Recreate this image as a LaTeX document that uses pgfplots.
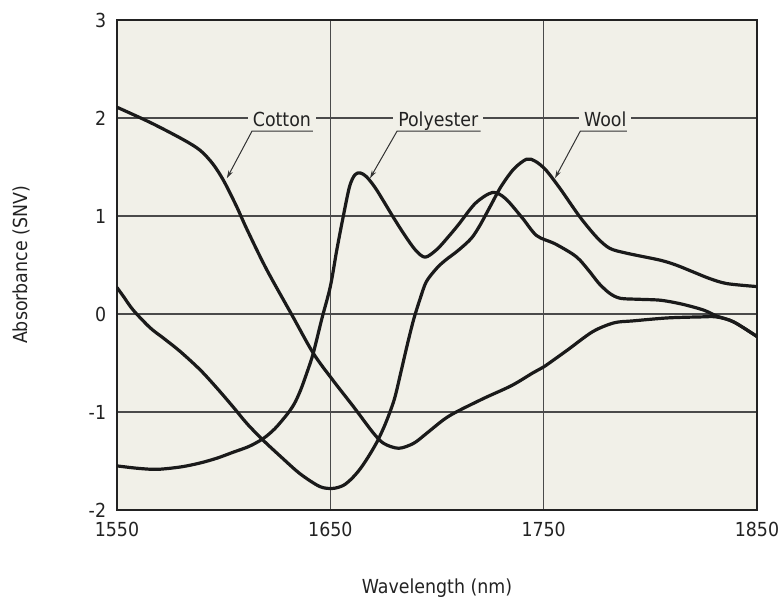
\documentclass[border=0pt]{standalone}
\usepackage{fontspec}
\setmainfont{DejaVu Sans Condensed}
\usepackage{pgfplots}
\pgfplotsset{compat=1.18}
\usetikzlibrary{arrows.meta}
\definecolor{bgc}{HTML}{F1F0E8}
\definecolor{gridc}{HTML}{4A4A4A}
\definecolor{framec}{HTML}{222222}
\definecolor{textc}{HTML}{222222}
\definecolor{curvec}{HTML}{1A1A1A}
\definecolor{leadc}{HTML}{333333}
\tikzset{spec/.style={line width=2.4pt, color=curvec, smooth, tension=0.5, line join=round, line cap=round, mark=none}}
\begin{document}
\begin{tikzpicture}
\path[use as bounding box] (-87.75pt,-73.5pt) rectangle (497.25pt,382.5pt);
\begin{axis}[
  at={(0,0)}, anchor=south west,
  scale only axis, width=480pt, height=367.5pt,
  xmin=1550, xmax=1850, ymin=-2, ymax=3,
  xtick={1550,1650,1750,1850}, ytick={-2,-1,0,1,2,3},
  xticklabels={1550,1650,1750,1850}, yticklabels={-2,-1,0,1,2,3},
  major tick length=0pt,
  grid=major, grid style={line width=0.8pt, color=gridc},
  axis background/.style={fill=bgc},
  axis line style={line width=1.6pt, color=framec},
  tick label style={font=\fontsize{14.5}{16}\selectfont, text=textc},
  xticklabel style={anchor=north, inner sep=0pt, yshift=-9pt},
  yticklabel style={anchor=east, inner sep=0pt, xshift=-8pt},
  label style={font=\fontsize{14.5}{16}\selectfont, text=textc},
  xlabel={Wavelength (nm)}, ylabel={Absorbance (SNV)},
  xlabel style={at={(axis description cs:0.5,-0.1592)}, anchor=center},
  ylabel style={at={(axis description cs:-0.149,0.5)}, anchor=center},
]
% Cotton
\addplot[spec] coordinates {
(1550,2.11) (1566,1.95) (1581,1.78) (1589,1.67) (1595,1.53) (1600,1.36)
(1606,1.10) (1611,0.86) (1620,0.46) (1632,-0.01) (1642,-0.40) (1651,-0.67)
(1661,-0.95) (1670,-1.21) (1675,-1.32) (1682,-1.37) (1689,-1.32) (1695,-1.22)
(1703,-1.08) (1709,-1.00) (1722,-0.86) (1735,-0.73) (1745,-0.60) (1750,-0.54)
(1761,-0.37) (1773,-0.18) (1783,-0.09) (1792,-0.07) (1808,-0.04) (1823,-0.03)
(1831,-0.03) (1839,-0.08) (1850,-0.23)
};
% Polyester
\addplot[spec] coordinates {
(1550,-1.55) (1560,-1.575) (1569,-1.585) (1580,-1.56) (1589,-1.52) (1597,-1.47)
(1604.5,-1.41) (1612,-1.35) (1618.6,-1.27) (1624,-1.17) (1629.5,-1.03) (1633,-0.92)
(1636,-0.78) (1639,-0.60) (1642,-0.40) (1646,-0.05) (1650,0.28) (1653,0.65)
(1656,0.99) (1659,1.30) (1661.5,1.42) (1664,1.44) (1667,1.40) (1671,1.29)
(1675,1.15) (1680,0.97) (1685,0.80) (1690,0.65) (1694.5,0.58) (1700,0.66)
(1705,0.78) (1710,0.91) (1718,1.13) (1726,1.24) (1732,1.18) (1740,0.98)
(1746.7,0.80) (1755,0.72) (1763,0.62) (1767,0.55) (1772,0.42) (1776,0.31)
(1781,0.21) (1786,0.16) (1795,0.15) (1805,0.14) (1815,0.10) (1825,0.04)
(1831,-0.02) (1839,-0.08) (1850,-0.23)
};
% Wool
\addplot[spec] coordinates {
(1550,0.27) (1553,0.18) (1557.6,0.04) (1565.5,-0.14) (1572,-0.25) (1579.5,-0.38)
(1589,-0.57) (1597,-0.76) (1604.5,-0.95) (1611,-1.12) (1618.6,-1.29) (1627,-1.46)
(1635.8,-1.63) (1645,-1.76) (1651,-1.78) (1656,-1.75) (1660,-1.68) (1664,-1.58)
(1668,-1.45) (1672,-1.30) (1676,-1.11) (1680,-0.87) (1683,-0.60) (1686,-0.32)
(1689,-0.06) (1692,0.15)
(1695,0.33) (1700,0.47) (1704,0.55) (1710,0.65) (1716,0.77) (1720,0.90)
(1725,1.10) (1730,1.30) (1736,1.48) (1742,1.58) (1746,1.56) (1751,1.47)
(1757.7,1.28) (1767,0.99) (1775,0.78) (1781,0.67) (1789,0.62) (1804.5,0.55)
(1812,0.50) (1820,0.43) (1828,0.36) (1836,0.31) (1850,0.28)
};
% labels
\begin{scope}[every node/.style={font=\fontsize{14.5}{16}\selectfont, text=textc, fill=bgc, inner xsep=3.75pt, inner ysep=1pt, anchor=base}]
\node at (axis cs:1627.3,1.911) {Cotton};
\node at (axis cs:1700.6,1.911) {Polyester};
\node at (axis cs:1778.9,1.911) {Wool};
\end{scope}
\begin{scope}[line width=0.75pt, color=leadc]
\draw[-{Stealth[length=6pt,width=3.5pt]}] (axis cs:1641.8,1.867) -- (axis cs:1613.3,1.867) -- (axis cs:1601.5,1.385);
\draw[-{Stealth[length=6pt,width=3.5pt]}] (axis cs:1720.4,1.867) -- (axis cs:1681.3,1.867) -- (axis cs:1668.6,1.385);
\draw[-{Stealth[length=6pt,width=3.5pt]}] (axis cs:1789.0,1.867) -- (axis cs:1767.2,1.867) -- (axis cs:1755.3,1.385);
\end{scope}
\end{axis}
\end{tikzpicture}
\end{document}
